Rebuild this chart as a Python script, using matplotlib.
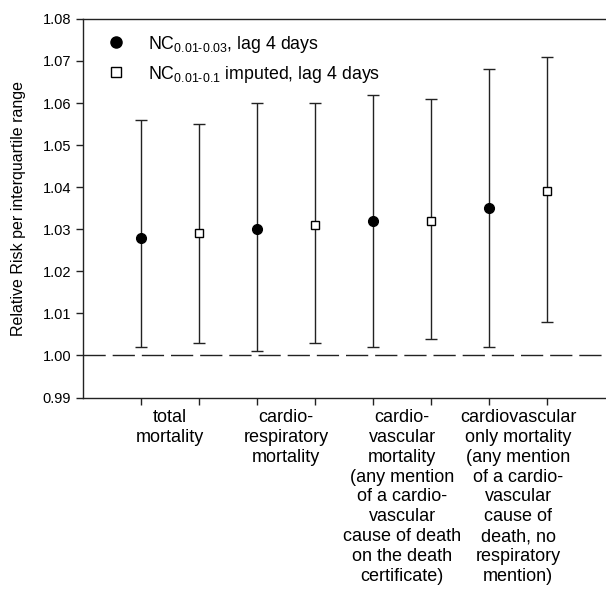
import matplotlib
matplotlib.use("Agg")
import matplotlib.pyplot as plt
from matplotlib.lines import Line2D
import numpy as np

plt.rcParams['font.family'] = ['Liberation Sans', 'DejaVu Sans']
plt.rcParams['mathtext.fontset'] = 'custom'
plt.rcParams['mathtext.rm'] = 'Liberation Sans'

# estimates and 95% CI, alternating between the two exposures
x_nc = [1, 3, 5, 7]
rr_nc = [1.028, 1.030, 1.032, 1.035]
lo_nc = [1.002, 1.001, 1.002, 1.002]
hi_nc = [1.056, 1.060, 1.062, 1.068]

x_imp = [2, 4, 6, 8]
rr_imp = [1.029, 1.031, 1.032, 1.039]
lo_imp = [1.003, 1.003, 1.004, 1.008]
hi_imp = [1.055, 1.060, 1.061, 1.071]

cat_x = [1.5, 3.5, 5.5, 7.5]
cat_labels = [
    "total\nmortality",
    "cardio-\nrespiratory\nmortality",
    "cardio-\nvascular\nmortality\n(any mention\nof a cardio-\nvascular\ncause of death\non the death\ncertificate)",
    "cardiovascular\nonly mortality\n(any mention\nof a cardio-\nvascular\ncause of\ndeath, no\nrespiratory\nmention)",
]

lab_nc = r'NC$_{\mathregular{0.01\text{-}0.03}}$, lag 4 days'
lab_imp = r'NC$_{\mathregular{0.01\text{-}0.1}}$ imputed, lag 4 days'

fig = plt.figure(figsize=(6.06, 5.89), dpi=100)
ax = fig.add_axes([0.137, 0.325, 0.862, 0.643])

rr_nc = np.array(rr_nc); rr_imp = np.array(rr_imp)
err_nc = [rr_nc - np.array(lo_nc), np.array(hi_nc) - rr_nc]
err_imp = [rr_imp - np.array(lo_imp), np.array(hi_imp) - rr_imp]

ax.axhline(1.0, color='#222222', lw=1.0, dashes=(16, 5), zorder=1)

ax.errorbar(x_nc, rr_nc, yerr=err_nc, fmt='o', ms=7, mfc='black', mec='black',
            ecolor='#222222', elinewidth=1.0, capsize=4.3, capthick=1.0, zorder=3)
ax.errorbar(x_imp, rr_imp, yerr=err_imp, fmt='s', ms=6, mfc='white', mec='black',
            mew=1.0, ecolor='#222222', elinewidth=1.0, capsize=4.3, capthick=1.0, zorder=3)

ax.set_xlim(0, 9)
ax.set_ylim(0.99, 1.08)
yt = np.arange(0.99, 1.0801, 0.01)
ax.set_yticks(yt)
ax.set_yticklabels([f"{v:.2f}" for v in yt], fontsize=10.5)
ax.set_xticks(x_nc + x_imp)
ax.set_xticklabels([])
ax.tick_params(direction='out', length=5, width=1.0, color='#222222')
ax.spines['right'].set_visible(False)
for s in ['left', 'top', 'bottom']:
    ax.spines[s].set_linewidth(1.0)
    ax.spines[s].set_color('#222222')

ax.set_ylabel("Relative Risk per interquartile range", fontsize=11.5, labelpad=12)

for cx, lab in zip(cat_x, cat_labels):
    ax.text(cx, -0.03, lab, transform=ax.get_xaxis_transform(), ha='center', va='top',
            fontsize=13, linespacing=1.22)

handles = [
    Line2D([], [], ls='none', marker='o', ms=8, mfc='black', mec='black'),
    Line2D([], [], ls='none', marker='s', ms=6.5, mfc='white', mec='black', mew=1.0),
]
ax.legend(handles, [lab_nc, lab_imp], loc='upper left', bbox_to_anchor=(0.016, 1.003),
          frameon=False, fontsize=12.8, handlelength=1.0, handletextpad=1.3,
          labelspacing=0.5)

fig.savefig("out.png", dpi=100)
